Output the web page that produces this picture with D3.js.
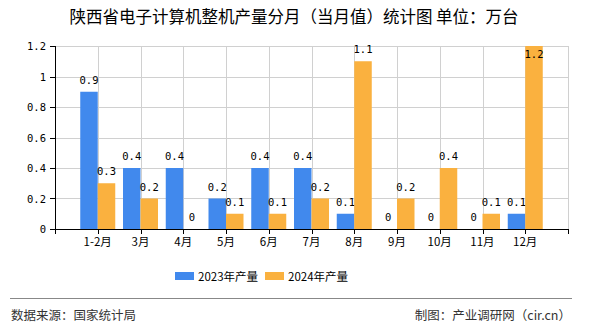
<!DOCTYPE html>
<html><head><meta charset="utf-8">
<script src="https://cdn.jsdelivr.net/npm/d3@7/dist/d3.min.js"></script>
<style>body{margin:0;background:#fff}svg{display:block}</style>
</head><body><svg id="c" width="590" height="330"></svg>
<script>
const categories = ["1-2月","3月","4月","5月","6月","7月","8月","9月","10月","11月","12月"];
const s2023 = [0.9,0.4,0.4,0.2,0.4,0.4,0.1,0,0,0,0.1];
const s2024 = [0.3,0.2,0,0.1,0.1,0.2,1.1,0.2,0.4,0.1,1.2];
const yTicks = [0,0.2,0.4,0.6,0.8,1,1.2];
const seriesNames = ["2023年产量","2024年产量"];
const colors = ["#4189ED","#FAB13F"];

const svg = d3.select("#c");
const L=55, R=568, T=46, B=229;
const x = d3.scalePoint().domain(categories).range([L,R]).padding(1);
const y = d3.scaleLinear().domain([0,1.2]).range([B,T]);
const bw = 17.5;
const cjk = "'Noto Sans CJK SC', sans-serif";
const mono = "'DejaVu Sans Mono', monospace";

svg.append("text").attr("x",294).attr("y",23).attr("text-anchor","middle")
  .attr("font-family",cjk).attr("font-size",16.5).attr("fill","#000")
  .text("陕西省电子计算机整机产量分月（当月值）统计图 单位：万台");

// grid
const xs = [L, ...categories.map(c=>x(c)), R];
svg.append("g").selectAll("line.h").data(yTicks.slice(1)).join("line")
  .attr("x1",L).attr("x2",R).attr("y1",d=>Math.round(y(d))+0.5).attr("y2",d=>Math.round(y(d))+0.5)
  .attr("stroke","#d0d0d0");
svg.append("g").selectAll("line.v").data(xs.slice(1)).join("line")
  .attr("x1",d=>Math.round(d)+0.5).attr("x2",d=>Math.round(d)+0.5).attr("y1",T).attr("y2",B)
  .attr("stroke","#d0d0d0");

// bars
const g = svg.append("g");
const series = [s2023, s2024];
series.forEach((vals,si)=>{
  g.selectAll(null).data(vals).join("rect")
    .attr("x",(d,i)=>x(categories[i]) + (si===0?-bw:0))
    .attr("width",bw)
    .attr("y",d=>y(d)).attr("height",d=>B-y(d))
    .attr("fill",colors[si]);
  g.selectAll(null).data(vals).join("text")
    .attr("x",(d,i)=>x(categories[i]) + (si===0?-bw/2:bw/2))
    .attr("y",d=>{ const yy=y(d)-8; return yy < T+4 ? y(d)+12 : yy; })
    .attr("text-anchor","middle").attr("font-family",mono).attr("font-size",10.5).attr("fill","#000")
    .text(d=>String(d));
});

// axes
svg.append("line").attr("x1",L+0.5).attr("x2",L+0.5).attr("y1",T).attr("y2",B).attr("stroke","#000");
svg.append("line").attr("x1",L).attr("x2",R+1).attr("y1",B+0.5).attr("y2",B+0.5).attr("stroke","#000");
svg.append("g").selectAll("line").data(xs).join("line")
  .attr("x1",d=>Math.round(d)+0.5).attr("x2",d=>Math.round(d)+0.5).attr("y1",B).attr("y2",B+5).attr("stroke","#000");
svg.append("g").selectAll("line").data(yTicks).join("line")
  .attr("x1",L-5).attr("x2",L).attr("y1",d=>Math.round(y(d))+0.5).attr("y2",d=>Math.round(y(d))+0.5).attr("stroke","#000");
svg.append("g").selectAll("text").data(yTicks).join("text")
  .attr("x",L-9).attr("y",d=>y(d)+4).attr("text-anchor","end")
  .attr("font-family",mono).attr("font-size",10.5).attr("fill","#000").text(d=>String(d));
svg.append("g").selectAll("text").data(categories).join("text")
  .attr("x",d=>x(d)).attr("y",B+17).attr("text-anchor","middle")
  .attr("font-family",cjk).attr("font-size",11.5).attr("fill","#000").text(d=>d);

// legend
const lg = svg.append("g");
const lx = [175,265];
seriesNames.forEach((n,i)=>{
  lg.append("rect").attr("x",lx[i]).attr("y",272).attr("width",19).attr("height",8).attr("fill",colors[i]);
  lg.append("text").attr("x",lx[i]+23).attr("y",280.5).attr("font-family",cjk).attr("font-size",11.5)
    .attr("fill","#000").text(n);
});

// footer
svg.append("line").attr("x1",10).attr("x2",572).attr("y1",298.5).attr("y2",298.5).attr("stroke","#888");
svg.append("text").attr("x",11).attr("y",320).attr("font-family",cjk).attr("font-size",12.5).attr("fill","#333")
  .text("数据来源：国家统计局");
svg.append("text").attr("x",571).attr("y",320).attr("text-anchor","end").attr("font-family",cjk).attr("font-size",12.5).attr("fill","#333")
  .text("制图：产业调研网（cir.cn）");
</script></body></html>
